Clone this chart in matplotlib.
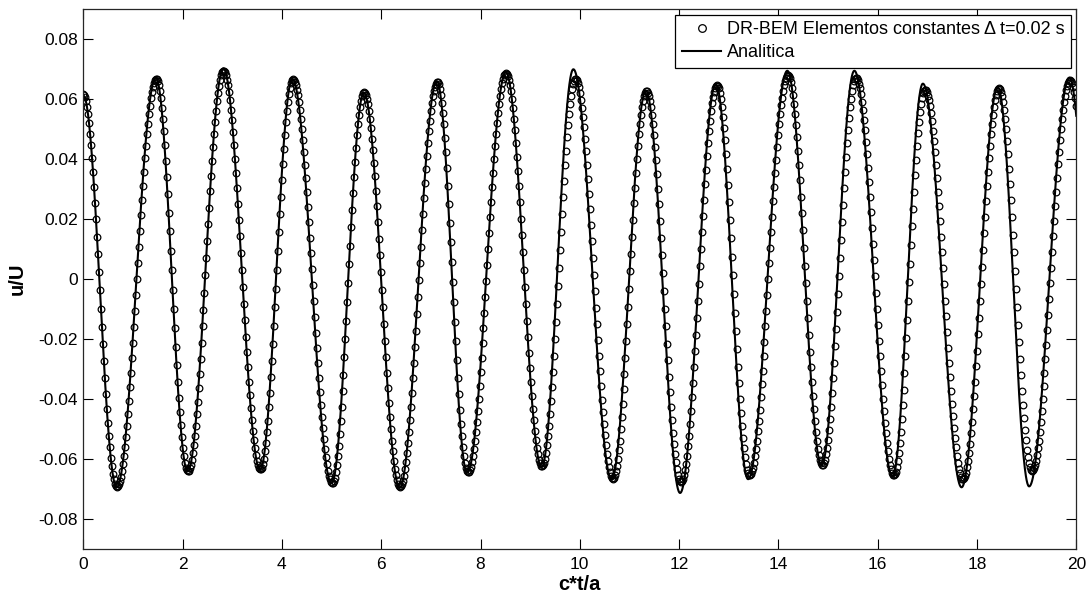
import numpy as np
import matplotlib
matplotlib.use("Agg")
import matplotlib.pyplot as plt

plt.rcParams['font.family'] = ['Liberation Sans', 'DejaVu Sans']

# extrema of the analytic curve (c*t/a, u/U)
t_ana = [0.00, 0.67, 1.46, 2.10, 2.82, 3.56, 4.21, 5.00, 5.65, 6.37,
         7.12, 7.73, 8.51, 9.23, 9.87, 10.64, 11.33, 12.02, 12.74, 13.39,
         14.18, 14.87, 15.53, 16.30, 16.91, 17.69, 18.42, 19.05, 19.86, 20.56]
u_ana = [0.0612, -0.0695, 0.0672, -0.0642, 0.0703, -0.0637, 0.0668, -0.0682, 0.0622, -0.0697,
         0.0660, -0.0647, 0.0690, -0.0628, 0.0700, -0.0668, 0.0628, -0.0714, 0.0650, -0.0668,
         0.0695, -0.0622, 0.0695, -0.0660, 0.0652, -0.0695, 0.0640, -0.0692, 0.0672, -0.0660]

# extrema of the DR-BEM solution (markers every dt)
t_bem = [0.00, 0.68, 1.47, 2.10, 2.83, 3.57, 4.22, 5.01, 5.66, 6.38,
         7.13, 7.74, 8.52, 9.24, 9.91, 10.66, 11.35, 12.04, 12.76, 13.41,
         14.20, 14.89, 15.56, 16.32, 16.96, 17.72, 18.44, 19.10, 19.88, 20.60]
u_bem = [0.0618, -0.0694, 0.0668, -0.0642, 0.0695, -0.0636, 0.0666, -0.0682, 0.0623, -0.0694,
         0.0657, -0.0645, 0.0688, -0.0625, 0.0668, -0.0666, 0.0628, -0.0678, 0.0648, -0.0655,
         0.0680, -0.0620, 0.0672, -0.0655, 0.0632, -0.0668, 0.0636, -0.0640, 0.0664, -0.0645]
dt = 0.02

xticks = [0, 2, 4, 6, 8, 10, 12, 14, 16, 18, 20]
yticks = [-0.08, -0.06, -0.04, -0.02, 0, 0.02, 0.04, 0.06, 0.08]
yticklabels = ['-0.08', '-0.06', '-0.04', '-0.02', '0', '0.02', '0.04', '0.06', '0.08']


def through_extrema(t, te, ue):
    # half-cosine between consecutive extrema
    te = np.asarray(te); ue = np.asarray(ue)
    i = np.clip(np.searchsorted(te, t, side='right') - 1, 0, len(te) - 2)
    s = (t - te[i]) / (te[i + 1] - te[i])
    return ue[i] + (ue[i + 1] - ue[i]) * (1 - np.cos(np.pi * s)) / 2


fig = plt.figure(figsize=(10.91, 5.98), dpi=100)
ax = fig.add_axes([0.0764, 0.0824, 0.9101, 0.902])

tb = np.arange(0, 20 + dt / 2, dt)
ax.plot(tb, through_extrema(tb, t_bem, u_bem), 'o', ls='none', mfc='none', mec='k',
        ms=4.8, mew=0.9, label='DR-BEM Elementos constantes \u0394 t=0.02 s')
ta = np.linspace(0, 20, 4001)
ax.plot(ta, through_extrema(ta, t_ana, u_ana), '-', color='k', lw=1.5, label='Analitica')

ax.set_xlim(0, 20)
ax.set_ylim(-0.09, 0.09)
ax.set_xticks(xticks)
ax.set_xticklabels([str(v) for v in xticks])
ax.set_yticks(yticks)
ax.set_yticklabels(yticklabels)
ax.tick_params(direction='in', length=7, width=0.8, top=True, right=True,
               labelsize=12.5, colors='k')
ax.tick_params(axis='x', pad=6)
ax.tick_params(axis='y', pad=4)
for sp in ax.spines.values():
    sp.set_linewidth(0.9)
    sp.set_color('#262626')

ax.set_xlabel('c*t/a', fontsize=14.5, fontweight='bold', labelpad=2)
ax.set_ylabel('u/U', fontsize=14.5, fontweight='bold', labelpad=8)

leg = ax.legend(loc='upper right', numpoints=1, fontsize=13, fancybox=False,
                framealpha=1, edgecolor='k', borderaxespad=0.3, handlelength=2.2,
                handletextpad=0.3, borderpad=0.35, labelspacing=0.35)
leg.get_frame().set_linewidth(0.9)
for h in leg.legend_handles:
    if h.get_marker() == 'o':
        h.set_markersize(5.5)

fig.savefig('out.png', dpi=100)
